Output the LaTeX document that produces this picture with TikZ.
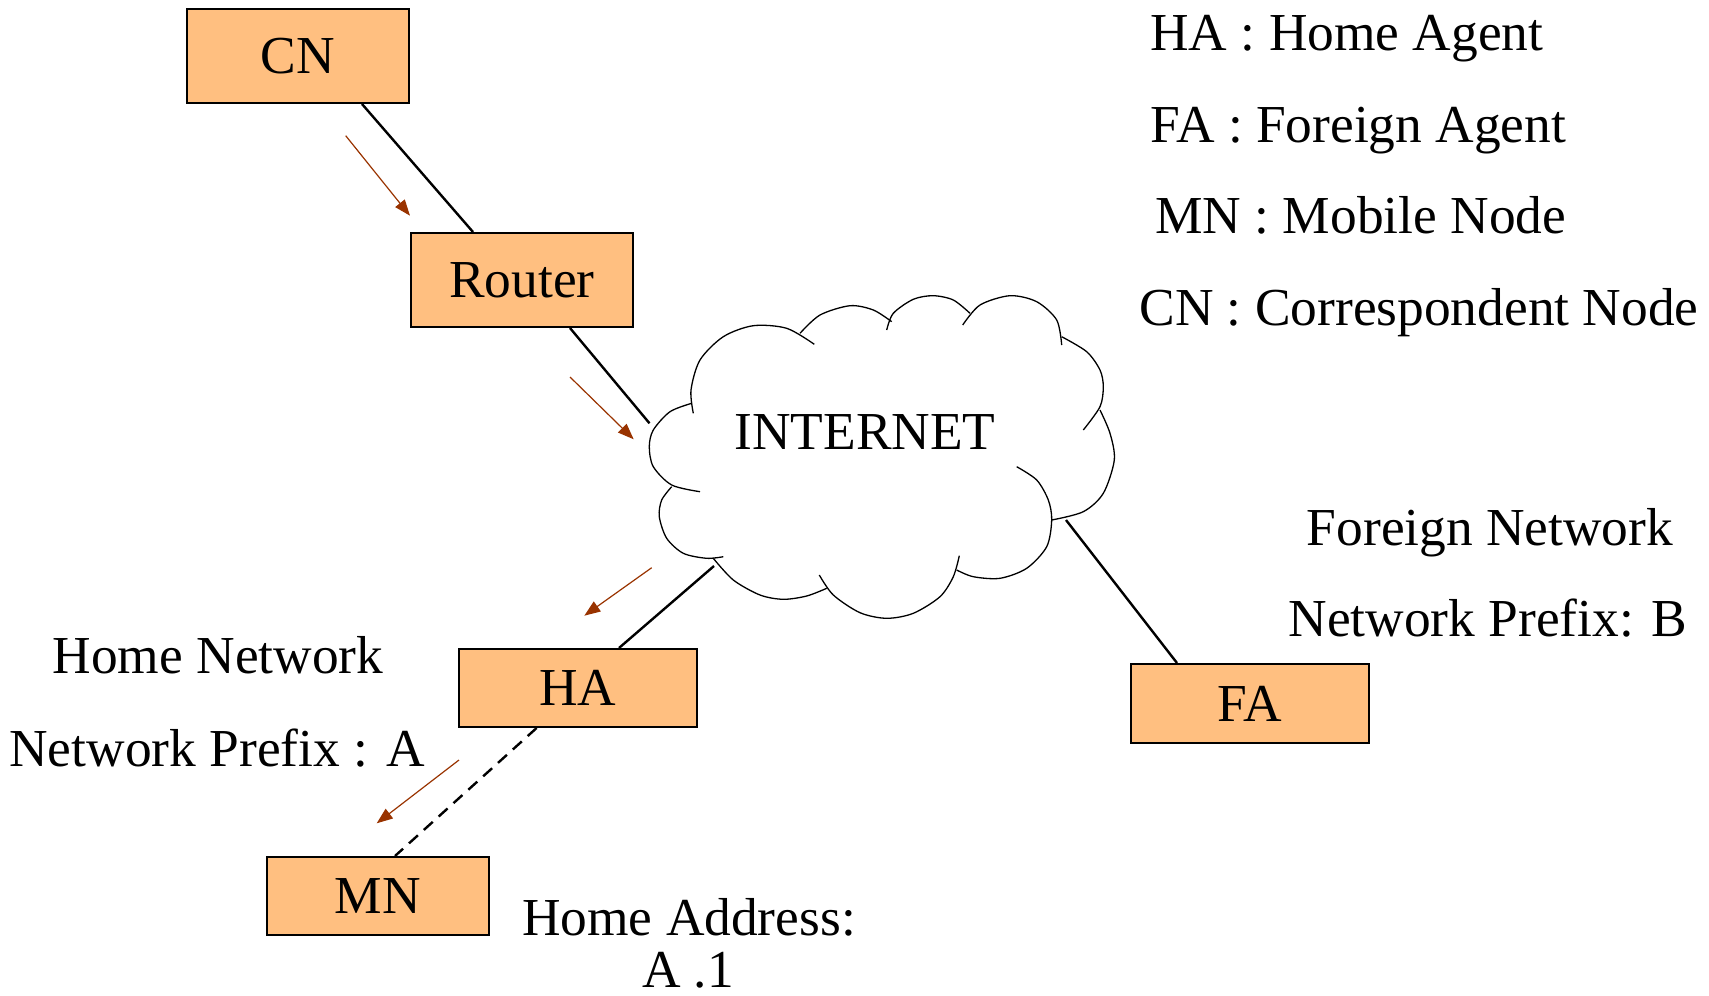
\documentclass[tikz,border=0pt]{standalone}
\usepackage{fontspec}
\setmainfont{Liberation Serif}
\usetikzlibrary{arrows.meta}
\definecolor{boxfill}{RGB}{255,191,128}
\definecolor{flow}{RGB}{153,51,0}
\begin{document}
\begin{tikzpicture}[x=0.5pt,y=-0.5pt,
  every node/.style={font=\fontsize{26.7pt}{26.5pt}\selectfont, inner sep=0pt},
  agentbox/.style={draw=black, line width=1pt, fill=boxfill},
  wire/.style={draw=black, line width=1.2pt},
  cloudline/.style={draw=black, line width=0.65pt},
  flowarrow/.style={draw=flow, line width=0.6pt, -{Triangle[length=8pt,width=6pt]}, color=flow},
  lbl/.style={anchor=base}
]
\useasboundingbox (0,0) rectangle (1709,996);

% boxes
\node[agentbox, minimum width=111pt, minimum height=47pt] (CN) at (298,56) {CN};
\node[agentbox, minimum width=111pt, minimum height=47pt] (R) at (522,280) {Router};
\node[agentbox, minimum width=119pt, minimum height=39pt] (HA) at (578,688) {HA};
\node[agentbox, minimum width=111pt, minimum height=39pt] (MN) at (378,896) {MN};
\node[agentbox, minimum width=119pt, minimum height=39.5pt] (FA) at (1250,703.5) {FA};

% cloud
\draw[cloudline] plot[smooth] coordinates {(691.7,403.3) (670,411.7) (653.3,430) (649.3,446.7) (653.3,466.7) (671.7,485) (700,491.7)};
\draw[cloudline] plot[smooth] coordinates {(671.7,486.7) (661.7,500) (659.3,516.7) (666.7,538.3) (683.3,553.3) (706.7,558.3) (723.3,556.7)};
\draw[cloudline] plot[smooth] coordinates {(713.3,558.3) (733.3,580) (760,595) (783.3,599.3) (806.7,596) (826.7,588.3)};
\draw[cloudline] plot[smooth] coordinates {(819.3,575) (833.3,595) (860,612.7) (886.7,618.3) (913.3,613.3) (940,596.7) (953.3,576.7) (959.3,555.7)};
\draw[cloudline] plot[smooth] coordinates {(1016.7,466.7) (1036.7,480) (1048.3,500) (1051.7,520) (1046.7,546.7) (1026.7,568.3) (1000,578.3) (973.3,576.7) (956.7,570)};
\draw[cloudline] plot[smooth] coordinates {(1051.7,520) (1083.3,511.7) (1103.3,493.3) (1114.3,460) (1110,433.3) (1100,410)};
\draw[cloudline] plot[smooth] coordinates {(1061.7,336.7) (1086.7,351.7) (1100,370) (1103.3,386.7) (1100,406.7) (1083.3,430)};
\draw[cloudline] plot[smooth] coordinates {(962.7,325) (980,305) (1010,295.7) (1036.7,301.7) (1056.7,320) (1061.7,345)};
\draw[cloudline] plot[smooth] coordinates {(886.7,330) (893.3,313.3) (913.3,299.3) (933.3,295.7) (953.3,300) (970,313.3)};
\draw[cloudline] plot[smooth] coordinates {(800,333.3) (820,315) (850,305.7) (873.3,310) (891.7,321.7)};
\draw[cloudline] plot[smooth] coordinates {(693.3,413.3) (691,390) (700,360) (723.3,336.7) (753.3,325.7) (786.7,328.3) (814.3,344.3)};
\node[lbl] (net) at (865,449.3) {INTERNET};

% cloud attachment points
\coordinate (cR) at (649.5,423.3);
\coordinate (cHA) at (714,566);
\coordinate (cFA) at (1066,520);

% connectors
\draw[wire] ([xshift=32pt]CN.south) -- ([xshift=-24.5pt]R.north);
\draw[wire] ([xshift=24pt]R.south) -- (cR);
\draw[wire] ([xshift=20.5pt]HA.north) -- (cHA);
\draw[wire] ([xshift=-36.5pt]FA.north) -- (cFA);
\draw[wire, dash pattern=on 6pt off 4pt] ([xshift=-20.7pt]HA.south) -- ([xshift=8.5pt]MN.north);

% flow arrows
\coordinate (a1s) at (345.7,135.7); \coordinate (a1e) at (410,215.7);
\coordinate (a2s) at (570,377);     \coordinate (a2e) at (633.7,439.3);
\coordinate (a3s) at (651.7,567.7); \coordinate (a3e) at (584.3,615.7);
\coordinate (a4s) at (459,760);     \coordinate (a4e) at (376.7,823.3);
\draw[flowarrow] (a1s) -- (a1e);
\draw[flowarrow] (a2s) -- (a2e);
\draw[flowarrow] (a3s) -- (a3e);
\draw[flowarrow] (a4s) -- (a4e);

% legend
\node[anchor=base west] (l1) at (1150,50) {HA : Home Agent};
\node[anchor=base west] (l2) at (1150,142) {FA : Foreign Agent};
\node[anchor=base west] (l3) at (1155,233) {MN : Mobile Node};
\node[anchor=base west] (l4) at (1139,325) {CN : Correspondent Node};

% network labels
\node[lbl] (fn) at (1490,545) {Foreign Network};
\node[lbl] (fp) at (1488,636.7) {Network Prefix: B};
\node[lbl] (hn) at (218,673.3) {Home Network};
\node[lbl] (hp) at (217,766.7) {Network Prefix : A};
\node[lbl] (ha1) at (689,935) {Home Address:};
\node[lbl] (ha2) at (688,987) {A .1};
\end{tikzpicture}
\end{document}
